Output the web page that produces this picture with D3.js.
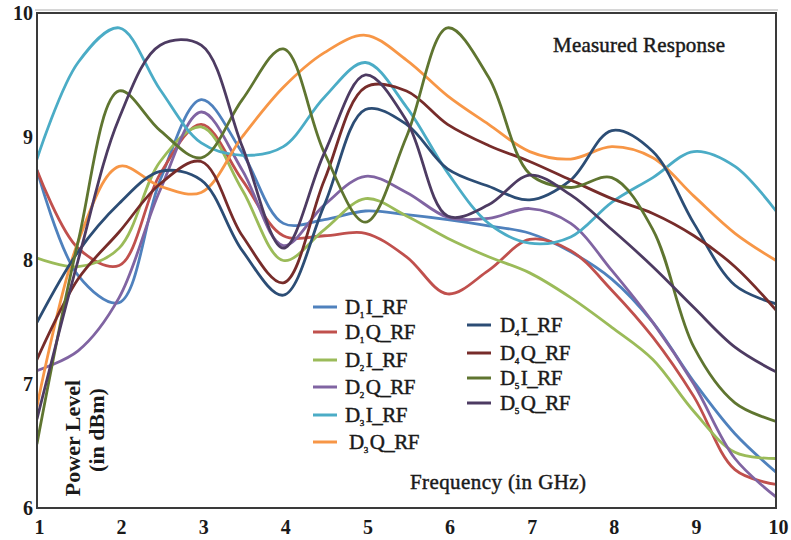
<!DOCTYPE html>
<html>
<head>
<meta charset="utf-8">
<script src="https://cdn.jsdelivr.net/npm/d3@7"></script>
<style>
  html, body { margin: 0; padding: 0; background: #fff; }
  svg { display: block; }
  text { font-family: "Liberation Serif", "DejaVu Serif", serif; fill: #1a1a1a; }
  .heavy { stroke: #1a1a1a; stroke-width: 0.45px; }
</style>
</head>
<body>
<svg id="chart" width="791" height="540"></svg>
<script>
// Frequency sample points (GHz)
const freq = [1, 1.5, 2, 2.5, 3, 3.5, 4, 4.5, 5, 5.5, 6, 6.5, 7, 7.5, 8, 8.5, 9, 9.5, 10];

// Measured output power (dBm) per channel
const d1I = [8.73, 7.88, 7.66, 8.65, 9.30, 8.87, 8.30, 8.33, 8.40, 8.37, 8.33, 8.28, 8.22, 8.07, 7.85, 7.50, 7.02, 6.60, 6.29];
const d1Q = [8.73, 8.10, 7.96, 8.70, 9.10, 8.65, 8.20, 8.20, 8.22, 8.03, 7.73, 7.92, 8.17, 8.08, 7.76, 7.38, 6.90, 6.31, 6.19];
const d2I = [8.02, 7.95, 8.10, 8.80, 9.08, 8.57, 8.00, 8.25, 8.50, 8.36, 8.18, 8.03, 7.90, 7.70, 7.46, 7.20, 6.78, 6.45, 6.40];
const d2Q = [7.11, 7.27, 7.70, 8.57, 9.20, 8.73, 8.12, 8.45, 8.68, 8.55, 8.35, 8.34, 8.42, 8.30, 7.92, 7.50, 7.00, 6.40, 6.09];
const d3I = [8.82, 9.60, 9.88, 9.38, 8.95, 8.85, 8.92, 9.32, 9.60, 9.24, 8.71, 8.30, 8.14, 8.19, 8.47, 8.67, 8.88, 8.76, 8.40];
const d3Q = [6.82, 8.15, 8.76, 8.60, 8.55, 9.00, 9.40, 9.68, 9.82, 9.62, 9.33, 9.10, 8.88, 8.82, 8.92, 8.83, 8.52, 8.22, 8.00];
const d4I = [7.50, 8.07, 8.46, 8.72, 8.65, 8.08, 7.72, 8.45, 9.22, 9.10, 8.74, 8.60, 8.49, 8.65, 9.05, 8.88, 8.30, 7.80, 7.65];
const d4Q = [7.20, 7.85, 8.23, 8.62, 8.80, 8.20, 7.82, 8.65, 9.40, 9.37, 9.10, 8.93, 8.80, 8.65, 8.50, 8.38, 8.20, 7.95, 7.60];
const d5I = [6.52, 8.15, 9.37, 9.05, 8.83, 9.30, 9.71, 8.87, 8.31, 9.00, 9.88, 9.48, 8.70, 8.59, 8.67, 8.25, 7.30, 6.85, 6.70];
const d5Q = [6.72, 8.00, 9.15, 9.74, 9.74, 8.92, 8.10, 8.87, 9.50, 9.13, 8.36, 8.45, 8.69, 8.53, 8.25, 7.95, 7.62, 7.30, 7.10];

// Legend labels: device index (subscript) and channel
const deviceIds = ["1", "1", "2", "2", "3", "3", "4", "4", "5", "5"];
const channels = ["I_RF", "Q_RF", "I_RF", "Q_RF", "I_RF", "Q_RF", "I_RF", "Q_RF", "I_RF", "Q_RF"];
const seriesValues = [d1I, d1Q, d2I, d2Q, d3I, d3Q, d4I, d4Q, d5I, d5Q];

// Axis ticks
const xTicks = [1, 2, 3, 4, 5, 6, 7, 8, 9, 10];
const yTicks = [6, 7, 8, 9, 10];

const palette = ["#4F81BD", "#C0504D", "#9BBB59", "#8064A2", "#4BACC6",
                 "#F79646", "#2C4D75", "#772C2A", "#5F7530", "#4D3B62"];

const serif = "'Liberation Serif', 'DejaVu Serif', serif";

const svg = d3.select("#chart");
const plot = { left: 37, right: 776, top: 13, bottom: 508 };

const x = d3.scaleLinear().domain([1, 10]).range([plot.left, plot.right]);
const y = d3.scaleLinear().domain([6, 10]).range([plot.bottom, plot.top]);

const series = seriesValues.map((vals, i) => ({
  id: deviceIds[i],
  channel: channels[i],
  color: palette[i],
  points: freq.map((f, j) => [f, vals[j]])
}));

// outer shadow line above the frame
svg.append("line")
  .attr("x1", plot.left - 2).attr("x2", plot.right + 2)
  .attr("y1", plot.top - 3).attr("y2", plot.top - 3)
  .attr("stroke", "#c8c8c8").attr("stroke-width", 1.5);

// clip so the curves stay inside the frame
svg.append("clipPath").attr("id", "plotClip")
  .append("rect")
  .attr("x", plot.left).attr("y", plot.top)
  .attr("width", plot.right - plot.left).attr("height", plot.bottom - plot.top);

const line = d3.line()
  .x(d => x(d[0]))
  .y(d => y(d[1]))
  .curve(d3.curveCatmullRom.alpha(0.5));

svg.append("g").attr("clip-path", "url(#plotClip)")
  .selectAll("path")
  .data(series)
  .join("path")
  .attr("d", d => line(d.points))
  .attr("fill", "none")
  .attr("stroke", d => d.color)
  .attr("stroke-width", 2.8)
  .attr("stroke-linejoin", "round")
  .attr("stroke-linecap", "round");

// frame
svg.append("rect")
  .attr("x", plot.left).attr("y", plot.top)
  .attr("width", plot.right - plot.left).attr("height", plot.bottom - plot.top)
  .attr("fill", "none").attr("stroke", "#3a3a3a").attr("stroke-width", 2);

// axes
const xAxis = svg.append("g")
  .attr("transform", `translate(2,${plot.bottom})`)
  .call(d3.axisBottom(x).tickValues(xTicks).tickSize(0).tickPadding(12).tickFormat(d3.format("d")));
xAxis.select(".domain").remove();
xAxis.selectAll("text")
  .style("font-family", serif)
  .style("font-size", "20px").style("font-weight", "bold").style("fill", "#1a1a1a");

const yAxis = svg.append("g")
  .attr("transform", `translate(${plot.left},0)`)
  .call(d3.axisLeft(y).tickValues(yTicks).tickSize(0).tickPadding(4).tickFormat(d3.format("d")));
yAxis.select(".domain").remove();
yAxis.selectAll("text")
  .style("font-family", serif)
  .style("font-size", "20px").style("font-weight", "bold").style("fill", "#1a1a1a");

// titles
svg.append("text")
  .attr("class", "heavy")
  .attr("x", 553).attr("y", 52)
  .style("font-family", serif)
  .style("font-size", "21px")
  .attr("textLength", 172)
  .text("Measured Response");

svg.append("text")
  .attr("class", "heavy")
  .attr("x", 410).attr("y", 489)
  .style("font-family", serif)
  .style("font-size", "21px")
  .attr("textLength", 176)
  .text("Frequency  (in GHz)");

svg.append("text")
  .attr("transform", "translate(80,438) rotate(-90)")
  .attr("text-anchor", "middle")
  .style("font-family", serif)
  .style("font-size", "22px")
  .style("font-weight", "bold")
  .text("Power Level");

svg.append("text")
  .attr("transform", "translate(104,430) rotate(-90)")
  .attr("text-anchor", "middle")
  .style("font-family", serif)
  .style("font-size", "22px")
  .style("font-weight", "bold")
  .text("(in dBm)");

// legend: two columns
const legendCols = [
  { lineX: 313, textX: 345, rows: [307, 332, 360, 387, 415, 442] },
  { lineX: 467, textX: 500, rows: [325, 353, 378, 403] }
];
const legendSlots = [];
legendCols.forEach(c => c.rows.forEach(r => legendSlots.push({ lineX: c.lineX, textX: c.textX, y: r })));

const legend = svg.append("g").selectAll("g")
  .data(series)
  .join("g")
  .attr("transform", (d, i) => `translate(0,${legendSlots[i].y})`);

legend.append("line")
  .attr("x1", (d, i) => legendSlots[i].lineX)
  .attr("x2", (d, i) => legendSlots[i].lineX + 24)
  .attr("y1", 0).attr("y2", 0)
  .attr("stroke", d => d.color)
  .attr("stroke-width", 3);

const label = legend.append("text")
  .attr("class", "heavy")
  .attr("x", (d, i) => legendSlots[i].textX + (i === 5 ? 4 : 0))
  .attr("y", 7)
  .style("font-family", serif)
  .style("font-size", "21px")
  .style("letter-spacing", "-0.5px");
label.append("tspan").text("D");
label.append("tspan")
  .attr("dy", 4)
  .style("font-size", "9px")
  .text(d => d.id);
label.append("tspan")
  .attr("dy", -4)
  .attr("dx", 2)
  .text(d => d.channel);
</script>
</body>
</html>
